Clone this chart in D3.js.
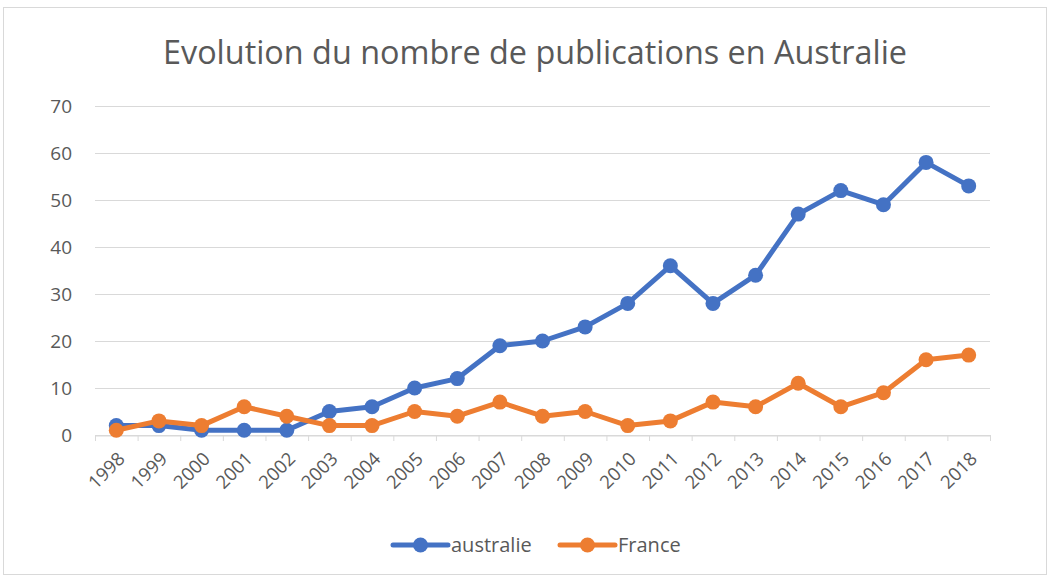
<!DOCTYPE html>
<html><head><meta charset="utf-8">
<script src="https://cdn.jsdelivr.net/npm/d3@7"></script>
<style>body{margin:0;background:#fff}svg{display:block}</style>
</head><body>
<svg id="c" width="1050" height="578"></svg>
<script>
const years = ["1998","1999","2000","2001","2002","2003","2004","2005","2006","2007","2008","2009","2010","2011","2012","2013","2014","2015","2016","2017","2018"];
const australie = [2,2,1,1,1,5,6,10,12,19,20,23,28,36,28,34,47,52,49,58,53];
const france = [1,3,2,6,4,2,2,5,4,7,4,5,2,3,7,6,11,6,9,16,17];
const yTicks = [0,10,20,30,40,50,60,70];
const seriesNames = ["australie","France"];
const colors = ["#4472C4","#ED7D31"];

const svg = d3.select("#c");
const font = "'Open Sans', 'Liberation Sans', sans-serif";
svg.append("rect").attr("x",3.5).attr("y",7.5).attr("width",1043).attr("height",567)
  .attr("fill","#fff").attr("stroke","#d9d9d9");

const L=95,R=990,T=106,B=435;
const x = d3.scaleBand().domain(years).range([L,R]);
const y = d3.scaleLinear().domain([0,70]).range([B,T]);

svg.append("text").attr("x",535).attr("y",64).attr("text-anchor","middle")
  .attr("font-family",font).attr("font-size",32).attr("fill","#595959")
  .attr("textLength",744).attr("lengthAdjust","spacingAndGlyphs")
  .text("Evolution du nombre de publications en Australie");

// grid
svg.append("g").selectAll("line").data(yTicks).join("line")
  .attr("x1",L).attr("x2",R).attr("y1",d=>y(d)+0.5).attr("y2",d=>y(d)+0.5)
  .attr("stroke","#d9d9d9").attr("stroke-width",1);

// y axis labels
const yAxis = d3.axisLeft(y).tickValues(yTicks).tickSize(0).tickPadding(23);
const gy = svg.append("g").attr("transform",`translate(${L},0)`).call(yAxis);
gy.select(".domain").remove();
gy.selectAll("text").attr("font-family",font).attr("font-size",19).attr("fill","#595959");

// x axis
const xAxis = d3.axisBottom(x).tickSize(0).tickPadding(0);
const gx = svg.append("g").attr("transform",`translate(0,${B+0.5})`).call(xAxis);
gx.select(".domain").attr("stroke","#d9d9d9");
gx.selectAll("text").attr("font-family",font).attr("font-size",18.5).attr("fill","#595959")
  .attr("text-anchor","end").attr("x",0).attr("y",0).attr("dy","0.35em")
  .attr("transform","translate(5,20) rotate(-45)");
// tick marks at band boundaries
const bounds = years.map(d=>x(d)).concat([R]);
svg.append("g").selectAll("line").data(bounds).join("line")
  .attr("x1",d=>d+0.5).attr("x2",d=>d+0.5).attr("y1",B).attr("y2",B+6)
  .attr("stroke","#d9d9d9");

const data = [australie, france];
const line = d3.line().x((d,i)=>x(years[i])+x.bandwidth()/2).y(d=>y(d));
data.forEach((s,k)=>{
  svg.append("path").datum(s).attr("d",line).attr("fill","none")
    .attr("stroke",colors[k]).attr("stroke-width",5).attr("stroke-linejoin","round").attr("stroke-linecap","round");
  svg.append("g").selectAll("circle").data(s).join("circle")
    .attr("cx",(d,i)=>x(years[i])+x.bandwidth()/2).attr("cy",d=>y(d)).attr("r",7.5)
    .attr("fill",colors[k]);
});

// legend
const legX = [393, 560];
seriesNames.forEach((n,k)=>{
  const g = svg.append("g").attr("transform",`translate(${legX[k]},545)`);
  g.append("line").attr("x1",0).attr("x2",55).attr("y1",0).attr("y2",0)
    .attr("stroke",colors[k]).attr("stroke-width",5).attr("stroke-linecap","round");
  g.append("circle").attr("cx",27.5).attr("cy",0).attr("r",7.5).attr("fill",colors[k]);
  g.append("text").attr("x",58).attr("y",0).attr("dy","0.35em")
    .attr("font-family",font).attr("font-size",20).attr("fill","#595959").text(n);
});
</script>
</body></html>
